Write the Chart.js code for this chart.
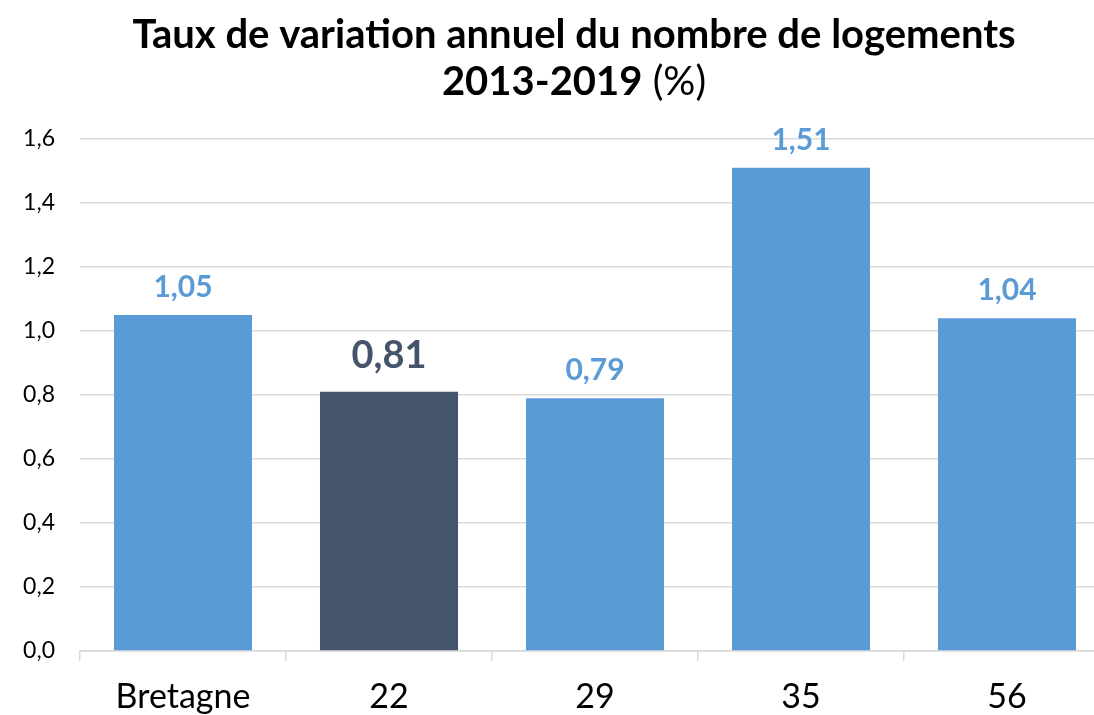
<!DOCTYPE html>
<html>
<head>
<meta charset="utf-8">
<script src="https://cdn.jsdelivr.net/npm/chart.js@4.4.1/dist/chart.umd.min.js"></script>
<style>
  html, body { margin: 0; padding: 0; background: #fff; overflow: hidden; }
  #wrap { width: 1148px; height: 715px; }
</style>
</head>
<body>
<div id="wrap"><canvas id="myChart"></canvas></div>
<script>
// data
const categories = ['Bretagne', '22', '29', '35', '56'];
const values = [1.05, 0.81, 0.79, 1.51, 1.04];
const yTicks = [0, 0.2, 0.4, 0.6, 0.8, 1.0, 1.2, 1.4, 1.6];
const titleLine1 = 'Taux de variation annuel du nombre de logements';
const titleLine2Bold = '2013-2019';
const titleLine2Rest = ' (%)';

const highlightIndex = 1;
const blue = '#5b9bd5';
const dark = '#44546a';
const fr = (v, d) => v.toFixed(d).replace('.', ',');

// title with mixed weights
const titlePlugin = {
    id: 'richTitle',
    afterDraw(chart) {
        const c = chart.ctx;
        const cx = chart.width / 2;
        c.save();
        c.fillStyle = '#000';
        c.textBaseline = 'alphabetic';
        c.textAlign = 'center';
        c.font = 'bold 40px Lato';
        c.fillText(titleLine1, cx, 48);
        const w1 = c.measureText(titleLine2Bold).width;
        c.font = '40px Lato';
        const w2 = c.measureText(titleLine2Rest).width;
        let x = cx - (w1 + w2) / 2;
        c.textAlign = 'left';
        c.font = 'bold 40px Lato';
        c.fillText(titleLine2Bold, x, 95);
        c.font = '40px Lato';
        c.fillText(titleLine2Rest, x + w1, 95);
        c.restore();
    }
};

// value labels above bars
const labelPlugin = {
    id: 'barLabels',
    afterDatasetsDraw(chart) {
        const c = chart.ctx;
        const meta = chart.getDatasetMeta(0);
        c.save();
        c.textAlign = 'center';
        c.textBaseline = 'alphabetic';
        meta.data.forEach((bar, i) => {
            const hi = i === highlightIndex;
            c.font = hi ? 'bold 38px Lato' : 'bold 30px Lato';
            c.fillStyle = hi ? dark : blue;
            c.fillText(fr(values[i], 2), bar.x, bar.y - (hi ? 24 : 18));
        });
        c.restore();
    }
};

const ctx = document.getElementById('myChart').getContext('2d');

new Chart(ctx, {
    type: 'bar',
    data: {
        labels: categories,
        datasets: [{
            data: values,
            backgroundColor: values.map((v, i) => i === highlightIndex ? dark : blue),
            barPercentage: 0.67,
            categoryPercentage: 1.0
        }]
    },
    plugins: [titlePlugin, labelPlugin],
    options: {
        responsive: true,
        maintainAspectRatio: false,
        animation: false,
        layout: {
            padding: { top: 139, left: 23, right: 38, bottom: 0 }
        },
        plugins: {
            legend: { display: false },
            title: { display: false },
            tooltip: { enabled: false }
        },
        scales: {
            x: {
                offset: true,
                afterFit(scale) { scale.height = 64; },
                grid: {
                    offset: true,
                    drawOnChartArea: false,
                    drawTicks: true,
                    tickLength: 10,
                    color: '#d9d9d9',
                    lineWidth: 1.5
                },
                border: { color: '#d9d9d9', width: 1.5 },
                ticks: {
                    color: '#000',
                    font: { family: 'Lato', size: 34 },
                    padding: 16
                }
            },
            y: {
                min: 0,
                max: 1.6,
                afterFit(scale) { scale.width = 57; },
                afterBuildTicks(scale) {
                    scale.ticks = yTicks.map(v => ({ value: v }));
                },
                grid: {
                    color: '#d9d9d9',
                    lineWidth: 1.5,
                    drawTicks: false
                },
                border: { display: false },
                ticks: {
                    color: '#000',
                    font: { family: 'Lato', size: 23 },
                    padding: 25,
                    callback: v => fr(v, 1)
                }
            }
        }
    }
});
</script>
</body>
</html>
